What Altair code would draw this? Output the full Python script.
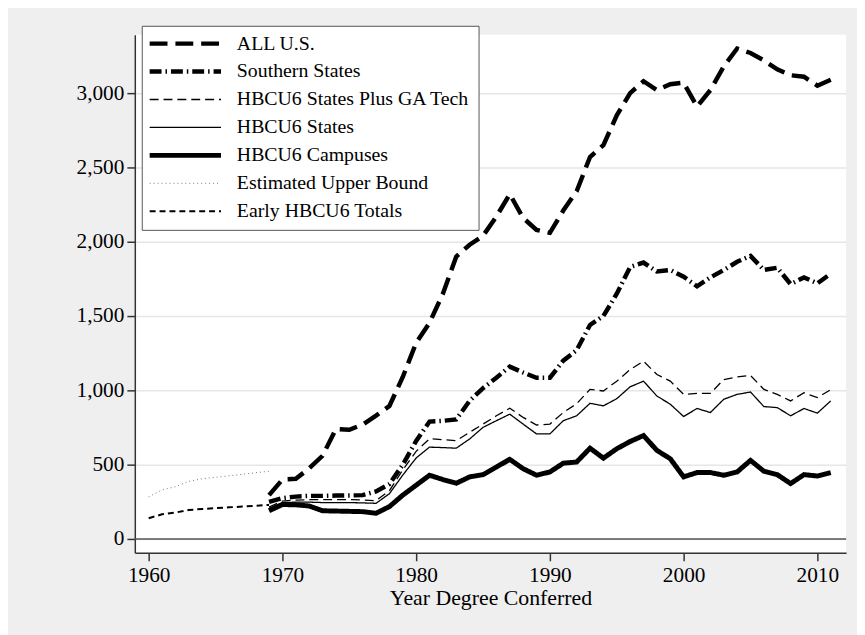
import altair as alt
import pandas as pd

# ---------------- data ----------------
years_early = list(range(1960, 1970))
years_main = list(range(1969, 2012))

upper_bound = [284, 330, 352, 388, 405, 415, 425, 435, 446, 456]
early_totals = [140, 166, 178, 195, 202, 208, 213, 218, 224, 229]

all_us = [295, 400, 405, 475, 560, 740, 735, 770, 830, 895,
          1090, 1320, 1455, 1650, 1900, 1980, 2040, 2170, 2320, 2160,
          2080, 2060, 2210, 2340, 2570, 2650, 2850, 3000, 3080, 3020,
          3060, 3070, 2910, 3020, 3180, 3300, 3270, 3220, 3160, 3120,
          3110, 3050, 3090]
southern = [250, 275, 285, 290, 290, 292, 293, 295, 320, 370,
            500, 660, 790, 795, 805, 930, 1015, 1085, 1160, 1120,
            1085, 1085, 1200, 1270, 1440, 1500, 1650, 1830, 1860, 1800,
            1810, 1765, 1700, 1760, 1810, 1865, 1905, 1810, 1825, 1715,
            1760, 1720, 1785]
plus_gatech = [215, 255, 262, 265, 265, 265, 265, 262, 258, 325,
               465, 590, 675, 668, 662, 718, 773, 829, 880, 818,
               767, 773, 851, 910, 1007, 996, 1062, 1140, 1196, 1107,
               1062, 973, 980, 980, 1073, 1091, 1100, 1007, 973, 929,
               984, 951, 1005]
hbcu6_states = [205, 245, 248, 248, 245, 245, 245, 243, 240, 305,
                430, 545, 618, 615, 611, 673, 751, 796, 840, 773,
                707, 707, 796, 829, 913, 896, 944, 1024, 1062, 962,
                907, 824, 878, 851, 940, 973, 989, 891, 884, 829,
                878, 847, 929]
hbcu6_campuses = [190, 232, 230, 222, 190, 188, 186, 184, 173, 218,
                  295, 362, 429, 400, 375, 418, 433, 484, 536, 473,
                  429, 451, 510, 518, 611, 544, 607, 656, 696, 596,
                  540, 418, 447, 447, 429, 451, 529, 456, 433, 373,
                  433, 424, 447]

series_names = ["ALL U.S.", "Southern States", "HBCU6 States Plus GA Tech",
                "HBCU6 States", "HBCU6 Campuses", "Estimated Upper Bound",
                "Early HBCU6 Totals"]

x_ticks = [1960, 1970, 1980, 1990, 2000, 2010]
y_ticks = [0, 500, 1000, 1500, 2000, 2500, 3000]

# ---------------- styles ----------------
dashes = [[18, 8], [12, 4, 1.5, 4], [9, 5], [1, 0], [1, 0], [1, 3], [6, 4]]
widths = [4.5, 4.5, 1.3, 1.3, 5, 1, 2]
colors = ["black", "black", "black", "black", "black", "#777777", "black"]

rows = []
for i, (yrs, vals) in enumerate([
    (years_main, all_us),
    (years_main, southern),
    (years_main, plus_gatech),
    (years_main, hbcu6_states),
    (years_main, hbcu6_campuses),
    (years_early, upper_bound),
    (years_early, early_totals),
]):
    for yr, v in zip(yrs, vals):
        rows.append({"series": series_names[i], "year": yr, "value": v})
df = pd.DataFrame(rows)

FONT = "Liberation Serif"

legend = alt.Legend(
    title=None, orient="none", legendX=7, legendY=-9,
    fillColor="white", strokeColor="#555555", padding=8, rowPadding=8.2,
    labelFont=FONT, labelFontSize=20, labelColor="black", labelLimit=0,
    symbolType="M-6,0H6", symbolSize=144, symbolOffset=26, labelOffset=42,
)

x_enc = alt.X("year:Q",
              scale=alt.Scale(domain=[1958.963, 2012.148], nice=False, zero=False),
              axis=alt.Axis(values=x_ticks, format="d", title="Year Degree Conferred",
                            grid=False, tickSize=8, labelPadding=4, titlePadding=2))
y_enc = alt.Y("value:Q",
              scale=alt.Scale(domain=[-93, 3393], nice=False, zero=False),
              axis=alt.Axis(values=y_ticks, format=",d", title=None, grid=True,
                            gridColor="#e6e6e6", gridWidth=1.5,
                            tickSize=8, labelPadding=3))

lines = alt.Chart(df).mark_line(strokeJoin="miter").encode(
    x=x_enc,
    y=y_enc,
    color=alt.Color("series:N", scale=alt.Scale(domain=series_names, range=colors), legend=legend),
    strokeDash=alt.StrokeDash("series:N", scale=alt.Scale(domain=series_names, range=dashes), legend=legend),
    strokeWidth=alt.StrokeWidth("series:N",
                                scale=alt.Scale(type="ordinal", domain=series_names, range=widths),
                                legend=legend),
    order="year:Q",
)

zero_line = alt.Chart(pd.DataFrame({"z": [0]})).mark_rule(color="#555555", strokeWidth=1.5).encode(
    y=alt.Y("z:Q", scale=alt.Scale(domain=[-93, 3393], nice=False, zero=False))
)

chart = alt.layer(zero_line, lines).properties(
    width=718, height=523,
    padding={"left": 128, "top": 24, "right": 11, "bottom": 80},
    autosize=alt.AutoSizeParams(type="none"),
).configure(
    background="#efefef"
).configure_view(
    fill="white", stroke=None
).configure_axis(
    labelFont=FONT, labelFontSize=21.5, labelColor="black",
    titleFont=FONT, titleFontSize=22, titleFontWeight="normal", titleColor="black",
    domainColor="#333333", domainWidth=1.5, tickColor="#333333", tickWidth=1.5,
)

chart.save("out.html", embed_options={"renderer": "svg", "actions": False})
